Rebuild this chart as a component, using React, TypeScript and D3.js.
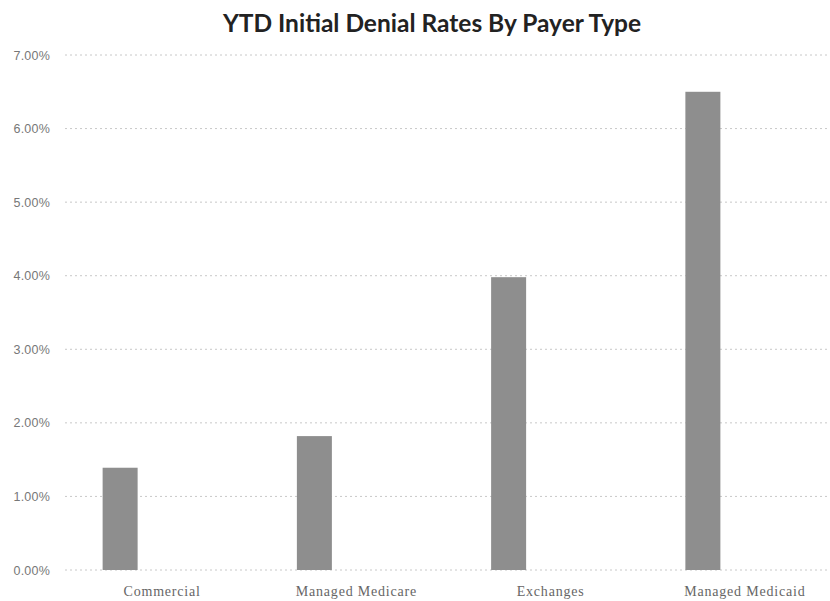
import React from "react";
import * as d3 from "d3";

const categories = ["Commercial", "Managed Medicare", "Exchanges", "Managed Medicaid"];
const denialRates = [1.39, 1.82, 3.98, 6.5];
const yTicks = [0, 1, 2, 3, 4, 5, 6, 7];
const title = "YTD Initial Denial Rates By Payer Type";

const W = 830;
const H = 601;

export default function App() {
  const x = d3.scaleBand<string>().domain(categories).range([65, 842]).paddingInner(0).paddingOuter(0);
  const y = d3.scaleLinear().domain([0, 7]).range([570, 55]);
  const barW = 35;
  const barOffset = -42;

  return (
    <svg width={W} height={H} style={{ position: "absolute", left: 0, top: 0, background: "#fff" }}>
      <rect x={0} y={0} width={W} height={H} fill="#fff" />
      <text x={432} y={32} textAnchor="middle" fontFamily="Lato, 'Open Sans', sans-serif" fontWeight="bold" fontSize={24.5} fill="#222">
        {title}
      </text>
      {yTicks.map((t) => (
        <g key={t}>
          <line x1={65} x2={W} y1={y(t)} y2={y(t)} stroke="#c8c8c8" strokeWidth={1} strokeDasharray="2,3" />
          <text x={50} y={y(t) + 4.5} textAnchor="end" fontFamily="'Liberation Sans', sans-serif" fontSize={12.5} fill="#777" letterSpacing={0.2}>
            {d3.format(".2f")(t) + "%"}
          </text>
        </g>
      ))}
      {categories.map((c, i) => {
        const cx = (x(c) as number) + x.bandwidth() / 2;
        return (
          <g key={c}>
            <rect x={cx + barOffset - barW / 2} y={y(denialRates[i])} width={barW} height={y(0) - y(denialRates[i])} fill="#8e8e8e" />
            <text x={cx} y={596} textAnchor="middle" fontFamily="'Liberation Serif', serif" fontSize={14} fill="#666" letterSpacing={0.8}>
              {c}
            </text>
          </g>
        );
      })}
    </svg>
  );
}
